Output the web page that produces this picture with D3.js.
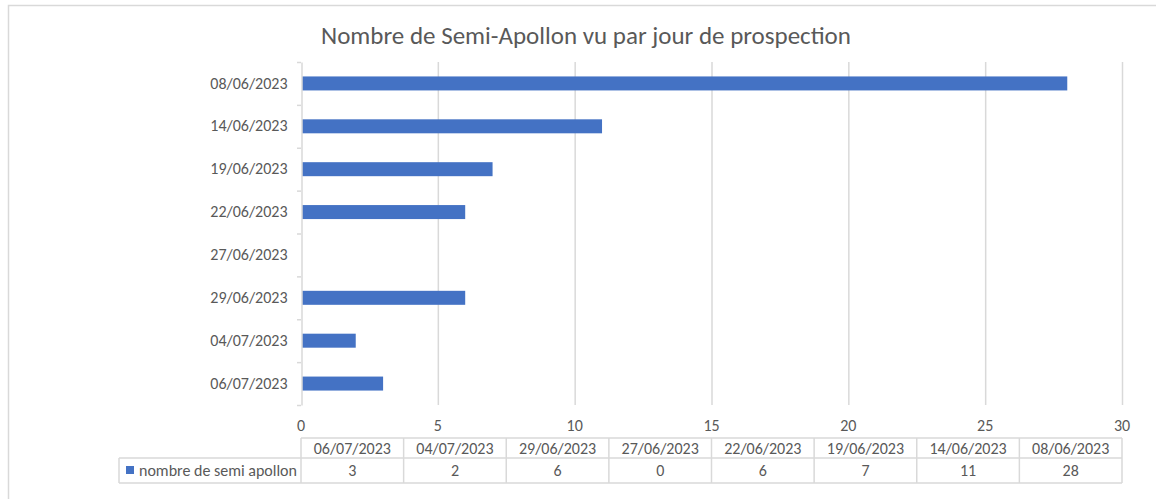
<!DOCTYPE html>
<html>
<head>
<meta charset="utf-8">
<script src="https://cdn.jsdelivr.net/npm/d3@7"></script>
<style>
body { margin: 0; background: #fff; }
text { font-family: Calibri, Carlito, "Liberation Sans", "Open Sans", sans-serif; }
</style>
</head>
<body>
<script>
var w = 1156;
var h = 499;

// data, top to bottom in the chart
var dates = ["08/06/2023", "14/06/2023", "19/06/2023", "22/06/2023",
             "27/06/2023", "29/06/2023", "04/07/2023", "06/07/2023"];
var counts = [28, 11, 7, 6, 0, 6, 2, 3];
var xTicks = [0, 5, 10, 15, 20, 25, 30];
var seriesName = "nombre de semi apollon";
var title = "Nombre de Semi-Apollon vu par jour de prospection";

var grey = "#595959";
var lineCol = "#d9d9d9";
var barCol = "#4472c4";

var plotL = 301, plotR = 1122, plotT = 62, plotB = 405;

var x = d3.scaleLinear().domain([0, 30]).range([plotL, plotR]);
var y = d3.scaleBand().domain(dates).range([plotT, plotB]);

var svg = d3.select("body")
    .append("svg")
    .attr("width", w)
    .attr("height", h);

// chart frame
svg.append("rect")
    .attr("x", 8.5).attr("y", 5.5)
    .attr("width", w + 10).attr("height", h + 10)
    .attr("fill", "none")
    .attr("stroke", lineCol)
    .attr("stroke-width", 1.5);

svg.append("text")
    .attr("x", 586).attr("y", 44)
    .attr("text-anchor", "middle")
    .attr("font-size", 25)
    .attr("fill", grey)
    .text(title);

// grid
svg.selectAll(".grid")
    .data(xTicks.slice(1))
    .enter()
    .append("line")
    .attr("x1", function(d) { return x(d) + 0.5; })
    .attr("x2", function(d) { return x(d) + 0.5; })
    .attr("y1", plotT)
    .attr("y2", plotB)
    .attr("stroke", lineCol)
    .attr("stroke-width", 1.5);

// x tick labels
svg.selectAll(".xl")
    .data(xTicks)
    .enter()
    .append("text")
    .attr("x", function(d) { return x(d); })
    .attr("y", 431)
    .attr("text-anchor", "middle")
    .attr("font-size", 16)
    .attr("fill", grey)
    .text(function(d) { return d; });

// bars
svg.selectAll(".bar")
    .data(counts)
    .enter()
    .append("rect")
    .attr("x", x(0) + 1)
    .attr("y", function(d, i) { return y(dates[i]) + y.bandwidth() / 2 - 7; })
    .attr("width", function(d) { return Math.max(0, x(d) - x(0) - 1); })
    .attr("height", 14)
    .attr("fill", barCol);

// category axis
var yAxis = d3.axisLeft(y).tickSize(0).tickPadding(14);
var gy = svg.append("g")
    .attr("transform", "translate(" + (plotL + 0.5) + ",0)")
    .call(yAxis);
gy.select(".domain").attr("stroke", lineCol).attr("stroke-width", 1.5);
gy.selectAll("text").attr("font-size", 16).attr("fill", grey)
    .style("font-family", "Calibri, Carlito, 'Liberation Sans', 'Open Sans', sans-serif");

// small ticks at band boundaries
var bounds = dates.map(function(d) { return y(d); }).concat([plotB]);
svg.selectAll(".yt")
    .data(bounds)
    .enter()
    .append("line")
    .attr("x1", plotL - 4).attr("x2", plotL)
    .attr("y1", function(d) { return d + 0.5; })
    .attr("y2", function(d) { return d + 0.5; })
    .attr("stroke", lineCol)
    .attr("stroke-width", 1.5);

// data table
var tableOrder = dates.slice().reverse();
var tableVals = counts.slice().reverse();
var colW = (plotR - plotL) / tableOrder.length;
var r1 = 438, r2 = 458, r3 = 483;
var tg = svg.append("g").attr("stroke", lineCol).attr("stroke-width", 1.5);

tg.append("line").attr("x1", plotL).attr("x2", plotR).attr("y1", r1).attr("y2", r1);
tg.append("line").attr("x1", 119).attr("x2", plotR).attr("y1", r2).attr("y2", r2);
tg.append("line").attr("x1", 119).attr("x2", plotR).attr("y1", r3).attr("y2", r3);
tg.append("line").attr("x1", 119).attr("x2", 119).attr("y1", r2).attr("y2", r3);
tg.selectAll(".col")
    .data(d3.range(tableOrder.length + 1))
    .enter()
    .append("line")
    .attr("x1", function(i) { return plotL + i * colW; })
    .attr("x2", function(i) { return plotL + i * colW; })
    .attr("y1", r1).attr("y2", r3);

svg.selectAll(".th")
    .data(tableOrder)
    .enter()
    .append("text")
    .attr("x", function(d, i) { return plotL + (i + 0.5) * colW; })
    .attr("y", r1 + 16)
    .attr("text-anchor", "middle")
    .attr("font-size", 16)
    .attr("fill", grey)
    .text(function(d) { return d; });

svg.selectAll(".tv")
    .data(tableVals)
    .enter()
    .append("text")
    .attr("x", function(d, i) { return plotL + (i + 0.5) * colW; })
    .attr("y", r2 + 18)
    .attr("text-anchor", "middle")
    .attr("font-size", 16)
    .attr("fill", grey)
    .text(function(d) { return d; });

svg.append("rect")
    .attr("x", 126).attr("y", 466)
    .attr("width", 8).attr("height", 8)
    .attr("fill", barCol);
svg.append("text")
    .attr("x", 139).attr("y", r2 + 18)
    .attr("font-size", 16)
    .attr("fill", grey)
    .text(seriesName);
</script>
</body>
</html>
